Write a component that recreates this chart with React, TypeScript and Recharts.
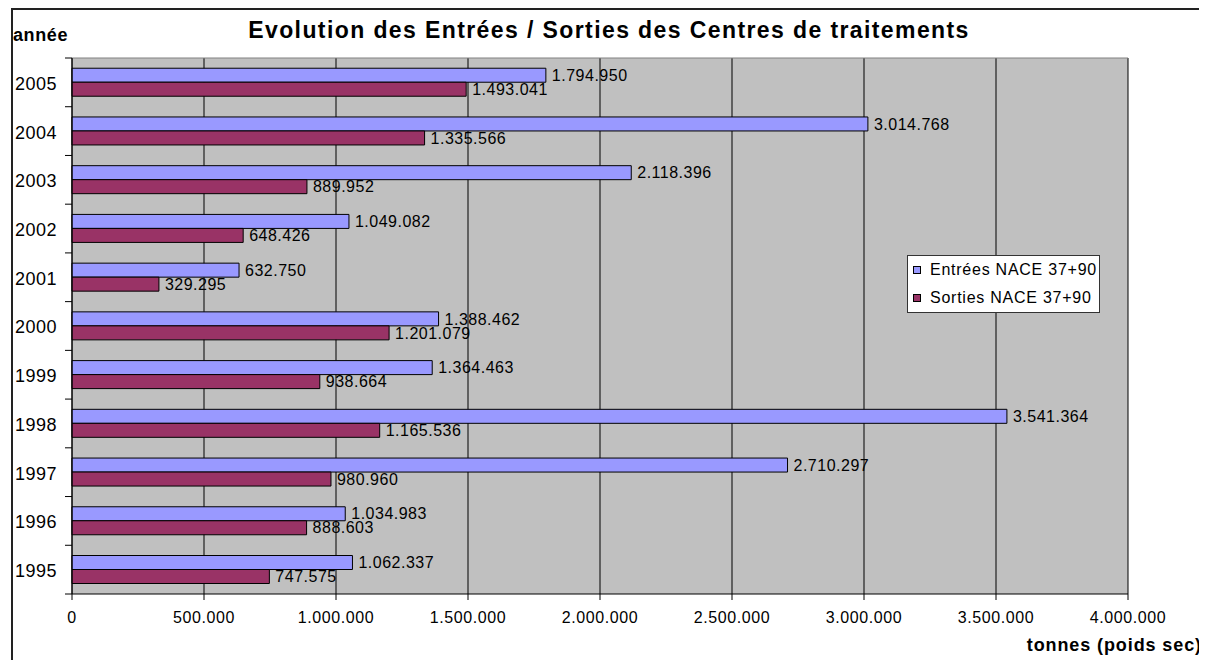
import {
    BarChart,
    Bar,
    XAxis,
    YAxis,
    CartesianGrid,
    LabelList,
} from "recharts"

const years = ["2005", "2004", "2003", "2002", "2001", "2000", "1999", "1998", "1997", "1996", "1995"]
const entrees = [1794950, 3014768, 2118396, 1049082, 632750, 1388462, 1364463, 3541364, 2710297, 1034983, 1062337]
const sorties = [1493041, 1335566, 889952, 648426, 329295, 1201079, 938664, 1165536, 980960, 888603, 747575]
const xTicks = [0, 500000, 1000000, 1500000, 2000000, 2500000, 3000000, 3500000, 4000000]
const seriesNames = ["Entrées NACE 37+90", "Sorties NACE 37+90"]
const seriesColors = ["#9999FF", "#993366"]

const data = years.map((year, i) => ({ year, entrees: entrees[i], sorties: sorties[i] }))

const FONT = "'Liberation Sans', Arial, sans-serif"
const W = 1199
const H = 652
const M = { top: 50, right: 79, bottom: 36, left: 14 }
const Y_AXIS_W = 50
const X_AXIS_H = 30
const BAND = (H - M.top - M.bottom - X_AXIS_H) / years.length

const fmt = (v: any) => String(v).replace(/\B(?=(\d{3})+(?!\d))/g, ".")

// year label at band centre + Excel style tick marks on band boundaries
function YearTick({ x, y, payload, index }: any) {
    const top = y - BAND / 2
    return (
        <g>
            <line x1={x - 7} y1={top} x2={x} y2={top} stroke="#000" />
            {index === years.length - 1 && (
                <line x1={x - 7} y1={top + BAND} x2={x} y2={top + BAND} stroke="#000" />
            )}
            <text x={x - 15} y={y + 1} dy="0.36em" textAnchor="end" fontSize={18} letterSpacing={0.5} fill="#000">
                {payload.value}
            </text>
        </g>
    )
}

function LegendBox() {
    return (
        <div
            style={{
                position: "absolute",
                left: 899,
                top: 247,
                width: 193,
                height: 58,
                background: "#fff",
                border: "1px solid #333",
                boxSizing: "border-box",
                fontSize: 16,
                letterSpacing: 0.75,
                color: "#000",
            }}
        >
            {seriesNames.map((name, i) => (
                <div
                    key={name}
                    style={{ position: "absolute", left: 5, top: 5 + i * 28, height: 18, display: "flex", alignItems: "center", whiteSpace: "nowrap" }}
                >
                    <span style={{ width: 6, height: 6, background: seriesColors[i], border: "1px solid #000", marginRight: 9 }} />
                    <span>{name}</span>
                </div>
            ))}
        </div>
    )
}

export default function App() {
    return (
        <div style={{ position: "relative", width: W, height: H, fontFamily: FONT, overflow: "hidden" }}>
            <div
                style={{
                    position: "absolute",
                    left: 3,
                    top: 0,
                    width: 1193,
                    height: 670,
                    border: "2px solid #222",
                    boxSizing: "border-box",
                }}
            />
            <div
                style={{
                    position: "absolute",
                    left: 0,
                    top: 9,
                    width: 1202,
                    textAlign: "center",
                    fontWeight: "bold",
                    fontSize: 23,
                    letterSpacing: 1.4,
                    whiteSpace: "nowrap",
                }}
            >
                Evolution des Entrées / Sorties des Centres de traitements
            </div>
            <div style={{ position: "absolute", left: 5, top: 17, fontWeight: "bold", fontSize: 18, letterSpacing: 0.6 }}>
                année
            </div>
            <div
                style={{
                    position: "absolute",
                    right: 5,
                    top: 627,
                    fontWeight: "bold",
                    fontSize: 18,
                    letterSpacing: 0.9,
                    whiteSpace: "nowrap",
                }}
            >
                tonnes (poids sec)
            </div>
            <BarChart
                width={W}
                height={H}
                data={data}
                layout="vertical"
                margin={M}
                barCategoryGap="21%"
                barGap={0}
                style={{ position: "absolute", left: 0, top: 0, fontFamily: FONT }}
            >
                <CartesianGrid horizontal={false} fill="#C0C0C0" fillOpacity={1} stroke="#000" />
                <CartesianGrid vertical={false} horizontalPoints={[M.top]} stroke="#808080" />
                <XAxis
                    type="number"
                    domain={[0, 4000000]}
                    ticks={xTicks}
                    tickFormatter={fmt}
                    height={X_AXIS_H}
                    tickSize={6}
                    tickMargin={12}
                    tick={{ fontSize: 16, fill: "#000", letterSpacing: 0.6 }}
                    axisLine={{ stroke: "#000" }}
                    tickLine={{ stroke: "#000" }}
                    interval={0}
                />
                <YAxis
                    type="category"
                    dataKey="year"
                    width={Y_AXIS_W}
                    tickSize={0}
                    tickMargin={0}
                    tickLine={false}
                    axisLine={{ stroke: "#000" }}
                    interval={0}
                    tick={<YearTick />}
                />
                <Bar
                    dataKey="entrees"
                    name={seriesNames[0]}
                    fill={seriesColors[0]}
                    stroke="#000"
                    strokeWidth={1}
                    isAnimationActive={false}
                >
                    <LabelList dataKey="entrees" position="right" offset={6} formatter={fmt} fontSize={16} letterSpacing={0.5} fill="#000" />
                </Bar>
                <Bar
                    dataKey="sorties"
                    name={seriesNames[1]}
                    fill={seriesColors[1]}
                    stroke="#000"
                    strokeWidth={1}
                    isAnimationActive={false}
                >
                    <LabelList dataKey="sorties" position="right" offset={6} formatter={fmt} fontSize={16} letterSpacing={0.5} fill="#000" />
                </Bar>
            </BarChart>
            <LegendBox />
        </div>
    )
}
